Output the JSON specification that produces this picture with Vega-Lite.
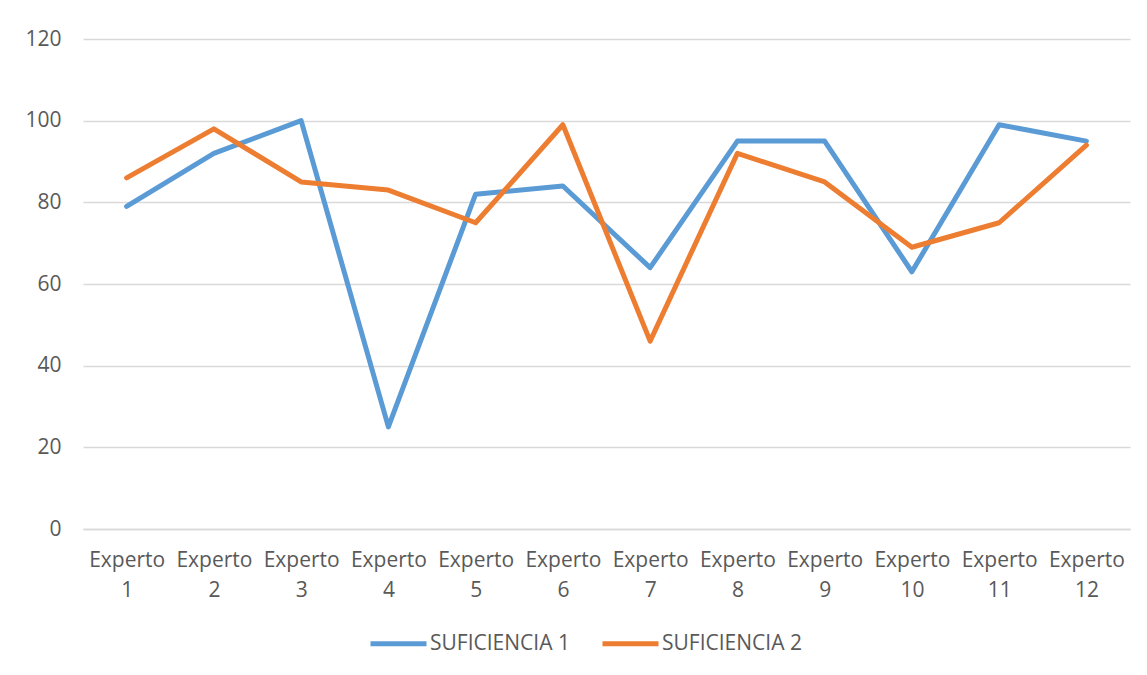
{
  "$schema": "https://vega.github.io/schema/vega-lite/v6.json",
  "width": 1047,
  "height": 490,
  "autosize": {"type": "none"},
  "padding": {"left": 83, "top": 39, "right": 17, "bottom": 146},
  "background": "white",
  "data": {
    "values": [
      {"experto": "Experto 1", "serie": "SUFICIENCIA 1", "valor": 79},
      {"experto": "Experto 2", "serie": "SUFICIENCIA 1", "valor": 92},
      {"experto": "Experto 3", "serie": "SUFICIENCIA 1", "valor": 100},
      {"experto": "Experto 4", "serie": "SUFICIENCIA 1", "valor": 25},
      {"experto": "Experto 5", "serie": "SUFICIENCIA 1", "valor": 82},
      {"experto": "Experto 6", "serie": "SUFICIENCIA 1", "valor": 84},
      {"experto": "Experto 7", "serie": "SUFICIENCIA 1", "valor": 64},
      {"experto": "Experto 8", "serie": "SUFICIENCIA 1", "valor": 95},
      {"experto": "Experto 9", "serie": "SUFICIENCIA 1", "valor": 95},
      {"experto": "Experto 10", "serie": "SUFICIENCIA 1", "valor": 63},
      {"experto": "Experto 11", "serie": "SUFICIENCIA 1", "valor": 99},
      {"experto": "Experto 12", "serie": "SUFICIENCIA 1", "valor": 95},
      {"experto": "Experto 1", "serie": "SUFICIENCIA 2", "valor": 86},
      {"experto": "Experto 2", "serie": "SUFICIENCIA 2", "valor": 98},
      {"experto": "Experto 3", "serie": "SUFICIENCIA 2", "valor": 85},
      {"experto": "Experto 4", "serie": "SUFICIENCIA 2", "valor": 83},
      {"experto": "Experto 5", "serie": "SUFICIENCIA 2", "valor": 75},
      {"experto": "Experto 6", "serie": "SUFICIENCIA 2", "valor": 99},
      {"experto": "Experto 7", "serie": "SUFICIENCIA 2", "valor": 46},
      {"experto": "Experto 8", "serie": "SUFICIENCIA 2", "valor": 92},
      {"experto": "Experto 9", "serie": "SUFICIENCIA 2", "valor": 85},
      {"experto": "Experto 10", "serie": "SUFICIENCIA 2", "valor": 69},
      {"experto": "Experto 11", "serie": "SUFICIENCIA 2", "valor": 75},
      {"experto": "Experto 12", "serie": "SUFICIENCIA 2", "valor": 94}
    ]
  },
  "mark": {"type": "line", "strokeWidth": 5, "strokeCap": "round", "strokeJoin": "round"},
  "encoding": {
    "x": {
      "field": "experto",
      "type": "nominal",
      "sort": null,
      "scale": {"type": "point", "padding": 0.5},
      "axis": {
        "title": null,
        "labelAngle": 0,
        "labelExpr": "split(datum.label, ' ')",
        "labelLineHeight": 30,
        "labelPadding": 20,
        "labelBaseline": "top",
        "labelFont": "Open Sans",
        "labelFontSize": 21,
        "labelColor": "#595959",
        "domain": true,
        "domainColor": "#D9D9D9",
        "domainWidth": 1.5,
        "ticks": false,
        "grid": false
      }
    },
    "y": {
      "field": "valor",
      "type": "quantitative",
      "scale": {"domain": [0, 120], "nice": false},
      "axis": {
        "title": null,
        "values": [0, 20, 40, 60, 80, 100, 120],
        "labelFont": "Open Sans",
        "labelFontSize": 21,
        "labelColor": "#595959",
        "labelPadding": 22,
        "domain": false,
        "ticks": false,
        "grid": true,
        "gridColor": "#D9D9D9",
        "gridWidth": 1.5
      }
    },
    "color": {
      "field": "serie",
      "type": "nominal",
      "scale": {"domain": ["SUFICIENCIA 1", "SUFICIENCIA 2"], "range": ["#5B9BD5", "#ED7D31"]},
      "legend": {
        "title": null,
        "orient": "none",
        "direction": "horizontal",
        "legendX": 285,
        "legendY": 574,
        "symbolType": "stroke",
        "symbolSize": 3136,
        "symbolStrokeWidth": 5,
        "labelFont": "Open Sans",
        "labelFontSize": 21,
        "labelColor": "#595959",
        "labelOffset": 1,
        "columnPadding": 22
      }
    }
  },
  "config": {"view": {"stroke": null}}
}
